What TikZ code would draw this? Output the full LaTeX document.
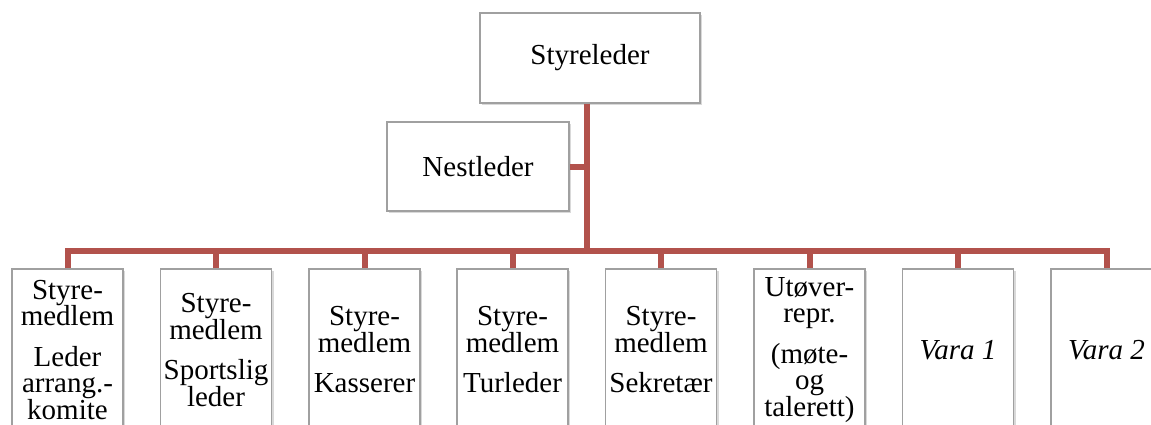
\documentclass[tikz,border=0pt]{standalone}
\usepackage{fontspec}
\setmainfont{Liberation Serif}
\usetikzlibrary{shadows}
\definecolor{conn}{RGB}{178,82,76}
\definecolor{boxline}{RGB}{160,160,160}
\begin{document}
\begin{tikzpicture}[x=1pt,y=-1pt,
  box/.style={draw=boxline,line width=1.5pt,fill=white,align=center,inner sep=0pt,
    font=\fontsize{29}{26.5}\selectfont,
    drop shadow={shadow xshift=2pt,shadow yshift=-2pt,opacity=0.3}},
  topbox/.style={box,minimum width=220pt,minimum height=90pt},
  lowbox/.style={box,minimum width=111pt,minimum height=162pt},
  link/.style={draw=conn,line width=6pt}]
\useasboundingbox (0,0) rectangle (1151,425);
\clip (0,0) rectangle (1151,425);
\coordinate (bar) at (587,251);
% nodes
\node[topbox] (lead) at (590,58) {Styreleder};
\node[topbox,minimum width=182pt,minimum height=89pt] (nest) at (478,166.5) {Nestleder};
\node[lowbox] (b1) at (67.5,350) {Styre-\\medlem\\[14pt]Leder\\arrang.-\\komite};
\node[lowbox] (b2) at (216,350) {Styre-\\medlem\\[14pt]Sportslig\\leder};
\node[lowbox] (b3) at (364.5,350) {Styre-\\medlem\\[14pt]Kasserer};
\node[lowbox] (b4) at (512.5,350) {Styre-\\medlem\\[14pt]Turleder};
\node[lowbox] (b5) at (661,350) {Styre-\\medlem\\[14pt]Sekretær};
\node[lowbox] (b6) at (809.5,350) {Utøver-\\repr.\\[14pt](møte-\\og\\talerett)};
\node[lowbox] (b7) at (958,350) {\itshape Vara 1};
\node[lowbox] (b8) at (1106.5,350) {\itshape Vara 2};
% connectors
\draw[link] (lead.south -| bar) -- (bar);
\draw[link] (nest.east) -- (nest.east -| bar);
\draw[link] (b1.north) -- (b1.north |- bar) -- (b8.north |- bar) -- (b8.north);
\foreach \n in {b2,b3,b4,b5,b6,b7}
  \draw[link] (\n.north) -- (\n.north |- bar);
\end{tikzpicture}
\end{document}
